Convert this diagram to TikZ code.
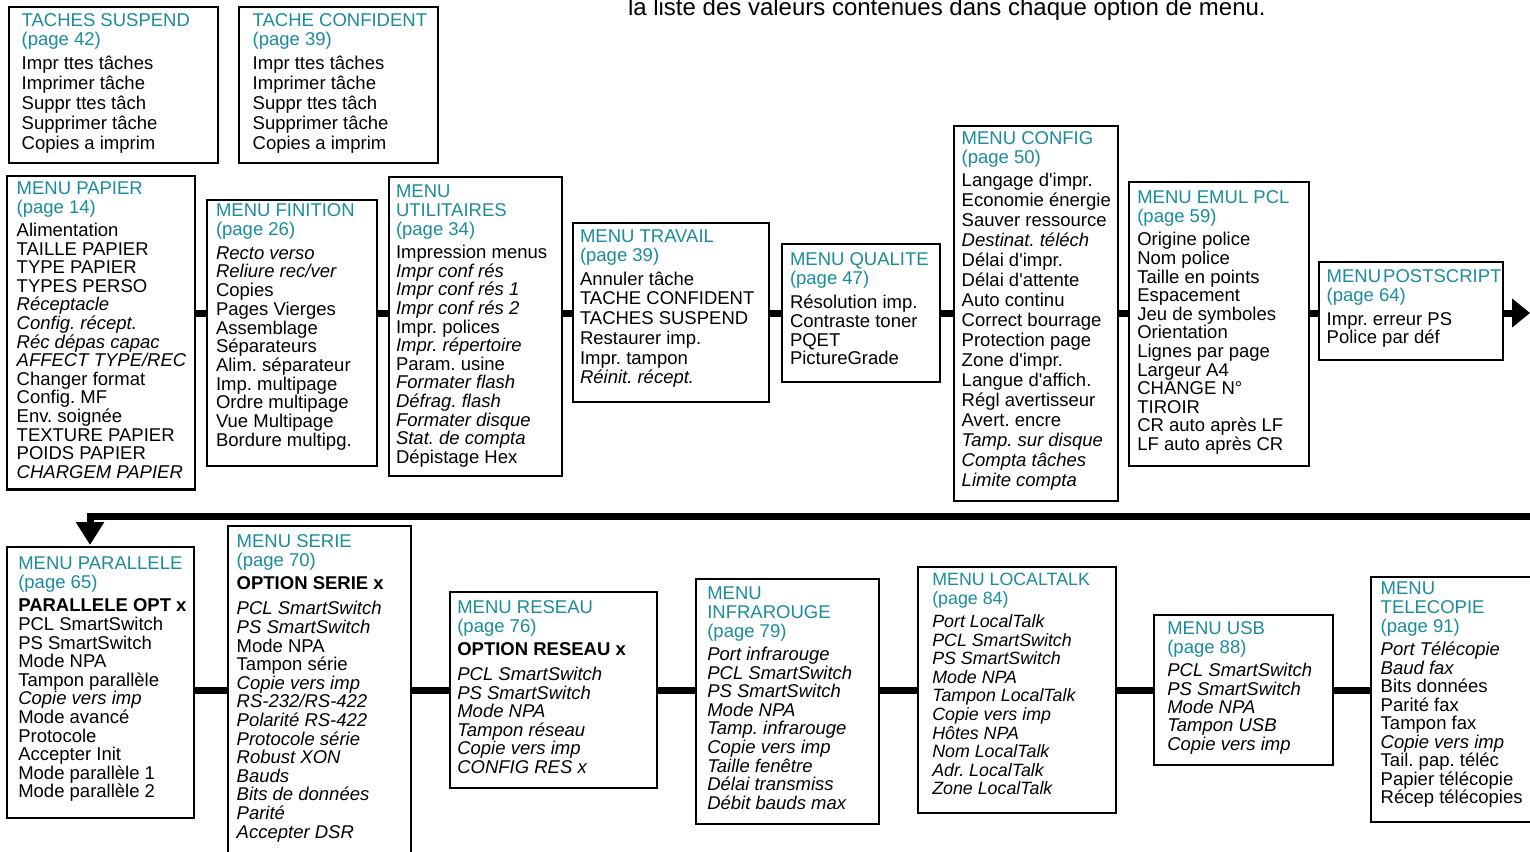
\documentclass[tikz,border=0pt]{standalone}
\usepackage{fontspec}
\setmainfont{Liberation Sans}[Ligatures=TeXOff]
\usetikzlibrary{arrows.meta}
\definecolor{menuteal}{RGB}{26,140,158}
\newcommand\TT[1]{\textcolor{menuteal}{#1}}
\newcommand\fsz{18.5}
\frenchspacing
\tikzset{
  mbox/.style={draw, line width=2.2pt, fill=white, inner sep=0pt, outer sep=0pt},
  mtxt/.style={inner sep=0pt, outer sep=0pt, text=black},
  conn/.style={line width=7pt, line join=miter},
}
% #1 name, #2 left, #3 top, #4 right, #5 bottom, #6 text x, #7 first baseline, #8 item spacing, #9 content
\newcommand\menubox[9]{%
  \node[mbox, minimum width={(#4)-(#2)}, minimum height={(#5)-(#3)}, anchor=north west] (#1) at (#2,#3) {};
  \node[mtxt, anchor=base west] (#1-text) at (#6,#7) {\parbox[t]{260pt}{\fontsize{\fsz}{#8}\selectfont\raggedright\frenchspacing
    \lineskiplimit=-100pt\lineskip=0pt
    \def\TG{\\[\dimexpr19pt-#8pt\relax]}%
    \def\PG{\\[\dimexpr23.5pt-#8pt\relax]}%
    #9}};%
}
\begin{document}
\begin{tikzpicture}[x=1pt,y=-1pt]
\useasboundingbox (0,0) rectangle (1530,851);
\clip (0,0) rectangle (1530,851);

\node[mtxt, anchor=base west, font=\fontsize{24}{28}\selectfont] (intro) at (628,16) {la liste des valeurs contenues dans chaque option de menu.};

% ---------- top small boxes
\menubox{ts}{9}{7}{218}{163}{21.7}{27}{20}{%
\TT{TACHES SUSPEND}\TG
\TT{(page 42)}\PG
Impr ttes tâches\\
Imprimer tâche\\
Suppr ttes tâch\\
Supprimer tâche\\
Copies a imprim}

\menubox{tc}{239}{7}{438}{163}{252.7}{27}{20}{%
\TT{TACHE CONFIDENT}\TG
\TT{(page 39)}\PG
Impr ttes tâches\\
Imprimer tâche\\
Suppr ttes tâch\\
Supprimer tâche\\
Copies a imprim}

% ---------- row 1
\menubox{papier}{7}{176}{195}{489.5}{16.7}{194}{18.6}{%
\TT{MENU PAPIER}\TG
\TT{(page 14)}\PG
Alimentation\\
TAILLE PAPIER\\
TYPE PAPIER\\
TYPES PERSO\\
\textit{Réceptacle}\\
\textit{Config. récept.}\\
\textit{Réc dépas capac}\\
\textit{AFFECT TYPE/REC}\\
Changer format\\
Config. MF\\
Env. soignée\\
TEXTURE PAPIER\\
POIDS PAPIER\\
\textit{CHARGEM PAPIER}}

\menubox{finition}{207}{200}{377}{466}{216}{216.7}{18.7}{%
\TT{MENU FINITION}\TG
\TT{(page 26)}\PG
\textit{Recto verso}\\
\textit{Reliure rec/ver}\\
Copies\\
Pages Vierges\\
Assemblage\\
Séparateurs\\
Alim. séparateur\\
Imp. multipage\\
Ordre multipage\\
Vue Multipage\\
Bordure multipg.}

\menubox{util}{389}{177}{562}{476}{396}{197}{18.64}{%
\TT{MENU}\TG
\TT{UTILITAIRES}\TG
\TT{(page 34)}\PG
Impression menus\\
\textit{Impr conf rés}\\
\textit{Impr conf rés 1}\\
\textit{Impr conf rés 2}\\
Impr. polices\\
\textit{Impr. répertoire}\\
Param. usine\\
\textit{Formater flash}\\
\textit{Défrag. flash}\\
\textit{Formater disque}\\
\textit{Stat. de compta}\\
Dépistage Hex}

\menubox{travail}{573}{223}{769}{402}{580}{242.7}{19.7}{%
\TT{MENU TRAVAIL}\TG
\TT{(page 39)}\PG
Annuler tâche\\
TACHE CONFIDENT\\
TACHES SUSPEND\\
Restaurer imp.\\
Impr. tampon\\
\textit{Réinit. récept.}}

\menubox{qualite}{782}{244}{940}{382}{790}{265.7}{18.9}{%
\TT{MENU QUALITE}\TG
\TT{(page 47)}\PG
Résolution imp.\\
Contraste toner\\
PQET\\
PictureGrade}

\menubox{config}{954}{126}{1118}{500.7}{961.7}{144.3}{20}{%
\TT{MENU CONFIG}\TG
\TT{(page 50)}\PG
Langage d'impr.\\
Economie énergie\\
Sauver ressource\\
\textit{Destinat. téléch}\\
Délai d'impr.\\
Délai d'attente\\
Auto continu\\
Correct bourrage\\
Protection page\\
Zone d'impr.\\
Langue d'affich.\\
Régl avertisseur\\
Avert. encre\\
\textit{Tamp. sur disque}\\
\textit{Compta tâches}\\
\textit{Limite compta}}

\menubox{emul}{1129}{182}{1309}{466}{1137.3}{203.3}{18.6}{%
\TT{MENU EMUL PCL}\TG
\TT{(page 59)}\PG
Origine police\\
Nom police\\
Taille en points\\
Espacement\\
Jeu de symboles\\
Orientation\\
Lignes par page\\
Largeur A4\\
CHANGE N°\\
TIROIR\\
CR auto après LF\\
LF auto après CR}

\menubox{ps}{1319}{262}{1503}{360}{1326.7}{282.7}{18}{%
\TT{MENU\hspace{2pt}POSTSCRIPT}\TG
\TT{(page 64)}\PG
Impr. erreur PS\\
Police par déf}

% ---------- row 2
\menubox{parallele}{7.3}{547}{194}{818}{18.3}{569}{18.6}{%
\TT{MENU PARALLELE}\TG
\TT{(page 65)}\PG
\textbf{PARALLELE OPT x}\\[0.4pt]
PCL SmartSwitch\\
PS SmartSwitch\\
Mode NPA\\
Tampon parallèle\\
\textit{Copie vers imp}\\
Mode avancé\\
Protocole\\
Accepter Init\\
Mode parallèle 1\\
Mode parallèle 2}

\menubox{serie}{228}{526}{411}{870}{236.7}{547.3}{18.6}{%
\TT{MENU SERIE}\TG
\TT{(page 70)}\PG
\textbf{OPTION SERIE x}\\[6.4pt]
\textit{PCL SmartSwitch}\\
\textit{PS SmartSwitch}\\
Mode NPA\\
Tampon série\\
\textit{Copie vers imp}\\
\textit{RS-232/RS-422}\\
\textit{Polarité RS-422}\\
\textit{Protocole série}\\
\textit{Robust XON}\\
\textit{Bauds}\\
\textit{Bits de données}\\
\textit{Parité}\\
\textit{Accepter DSR}}

\menubox{reseau}{450}{592}{657}{788}{457.3}{613.3}{18.5}{%
\TT{MENU RESEAU}\TG
\TT{(page 76)}\PG
\textbf{OPTION RESEAU x}\\[6.2pt]
\textit{PCL SmartSwitch}\\
\textit{PS SmartSwitch}\\
\textit{Mode NPA}\\
\textit{Tampon réseau}\\
\textit{Copie vers imp}\\
\textit{CONFIG RES x}}

\menubox{infra}{696}{579}{879}{824}{707.3}{599}{18.6}{%
\TT{MENU}\TG
\TT{INFRAROUGE}\TG
\TT{(page 79)}\PG
\textit{Port infrarouge}\\
\textit{PCL SmartSwitch}\\
\textit{PS SmartSwitch}\\
\textit{Mode NPA}\\
\textit{Tamp. infrarouge}\\
\textit{Copie vers imp}\\
\textit{Taille fenêtre}\\
\textit{Délai transmiss}\\
\textit{Débit bauds max}}

\renewcommand\fsz{17.8}
\menubox{localtalk}{918.3}{566.7}{1116}{813.3}{932.3}{585}{18.6}{%
\TT{MENU LOCALTALK}\TG
\TT{(page 84)}\PG
\textit{Port LocalTalk}\\
\textit{PCL SmartSwitch}\\
\textit{PS SmartSwitch}\\
\textit{Mode NPA}\\
\textit{Tampon LocalTalk}\\
\textit{Copie vers imp}\\
\textit{Hôtes NPA}\\
\textit{Nom LocalTalk}\\
\textit{Adr. LocalTalk}\\
\textit{Zone LocalTalk}}
\renewcommand\fsz{18.5}

\menubox{usb}{1154.3}{615}{1332.7}{765}{1167.3}{634.3}{18.3}{%
\TT{MENU USB}\TG
\TT{(page 88)}\PG
\textit{PCL SmartSwitch}\\
\textit{PS SmartSwitch}\\
\textit{Mode NPA}\\
\textit{Tampon USB}\\
\textit{Copie vers imp}}

\menubox{tele}{1371}{577}{1545}{822}{1380.7}{594.3}{18.5}{%
\TT{MENU}\TG
\TT{TELECOPIE}\TG
\TT{(page 91)}\PG
\textit{Port Télécopie}\\
\textit{Baud fax}\\
Bits données\\
Parité fax\\
Tampon fax\\
\textit{Copie vers imp}\\
Tail. pap. téléc\\
Papier télécopie\\
Récep télécopies}

% ---------- connectors
\coordinate (r1) at (0,313);
\coordinate (r2) at (0,690);
\draw[conn] (papier.east |- r1) -- (finition.west |- r1);
\draw[conn] (finition.east |- r1) -- (util.west |- r1);
\draw[conn] (util.east |- r1) -- (travail.west |- r1);
\draw[conn] (travail.east |- r1) -- (qualite.west |- r1);
\draw[conn] (qualite.east |- r1) -- (config.west |- r1);
\draw[conn] (config.east |- r1) -- (emul.west |- r1);
\draw[conn] (emul.east |- r1) -- (ps.west |- r1);
\coordinate (arrowEnd) at (1530,313);
\draw[conn, -{Triangle[length=18pt,width=28pt]}] (ps.east |- r1) -- (arrowEnd);

\coordinate (retStart) at (1545,516);
\coordinate (retCorner) at (90,516);
\coordinate (retEnd) at (90,545);
\draw[conn, -{Triangle[length=23pt,width=27pt]}] (retStart) -- (retCorner) -- (retEnd);

\draw[conn] (parallele.east |- r2) -- (serie.west |- r2);
\draw[conn] (serie.east |- r2) -- (reseau.west |- r2);
\draw[conn] (reseau.east |- r2) -- (infra.west |- r2);
\draw[conn] (infra.east |- r2) -- (localtalk.west |- r2);
\draw[conn] (localtalk.east |- r2) -- (usb.west |- r2);
\draw[conn] (usb.east |- r2) -- (tele.west |- r2);
\end{tikzpicture}
\end{document}
